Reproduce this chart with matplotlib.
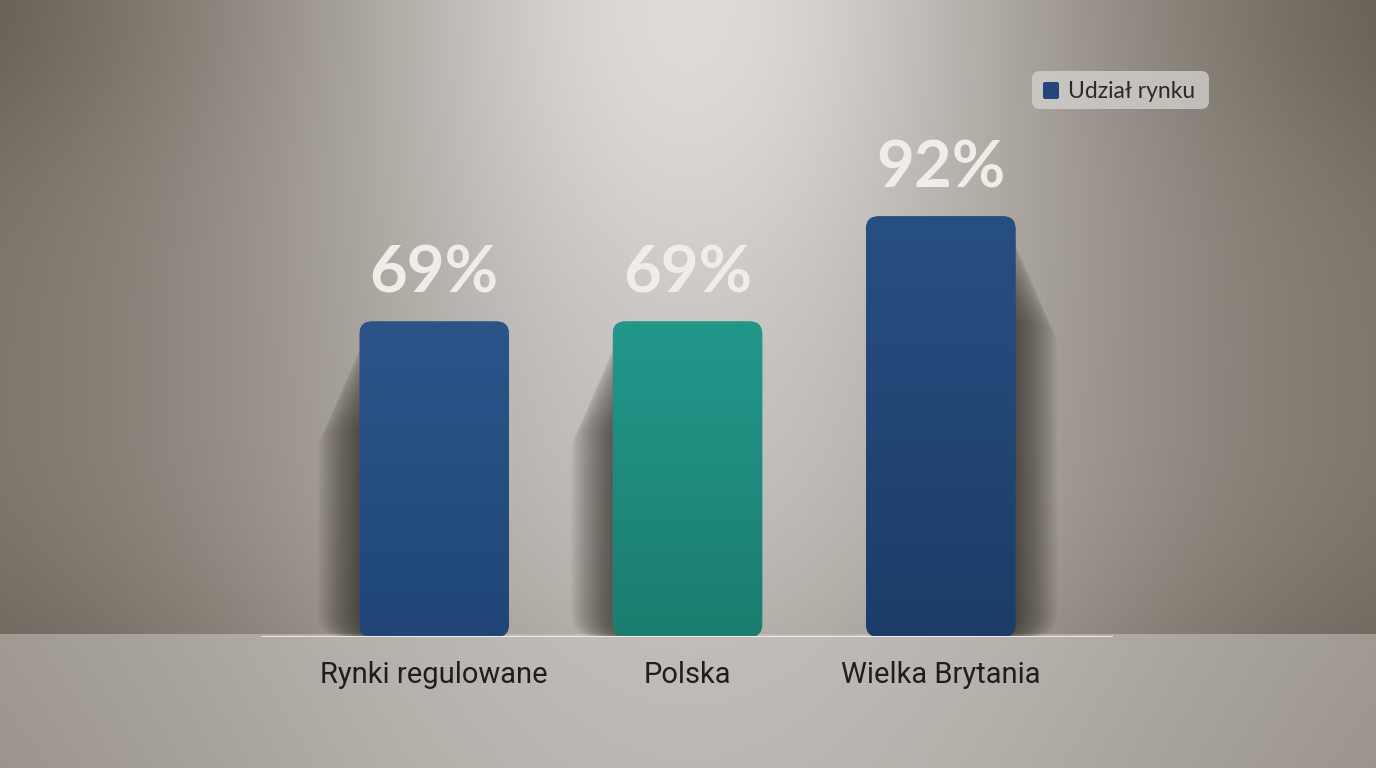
import numpy as np
import matplotlib
matplotlib.use("Agg")
import matplotlib.pyplot as plt
from matplotlib.patches import FancyBboxPatch
from matplotlib.colors import LinearSegmentedColormap

categories = ["Rynki regulowane", "Polska", "Wielka Brytania"]
values = [69, 69, 92]
value_labels = ["69%", "69%", "92%"]
bar_colors = ["#244e85", "#1f8e81", "#21477c"]
bar_tops = ["#2b5589", "#22988b", "#284f82"]
bar_bottoms = ["#1f4677", "#1b7d70", "#1c3c68"]
legend_label = "Udział rynku"

W, H = 1376, 768
fig = plt.figure(figsize=(W / 100, H / 100), dpi=100)

# background: wall with soft top light + floor
bg = fig.add_axes([0, 0, 1, 1])
yy, xx = np.mgrid[0:H, 0:W].astype(float)
ux = np.abs(xx - 688) / 688.0
wall = 0.42 + 0.32 * np.exp(-((xx - 688) / 500.0) ** 2)
wall += 0.12 * np.exp(-((xx - 688) / 300.0) ** 2) * np.exp(-(yy / 320.0) ** 2)
wall -= 0.08 * np.exp(-(yy / 160.0) ** 2) * ux ** 2
wall -= 0.05 * np.clip((yy - 420) / 214.0, 0, 1) ** 2
floor = 0.55 + 0.19 * np.exp(-((xx - 688) / 620.0) ** 2) - 0.02 * (yy - 634) / 134.0
lum = np.where(yy < 634, wall, floor)
img = np.dstack([lum + 0.03 * (1 - lum) + 0.01, lum, lum - 0.07 * (1 - lum)])
bg.imshow(np.clip(img, 0, 1), extent=[0, W, H, 0], aspect="auto")
bg.set_xlim(0, W)
bg.set_ylim(H, 0)
bg.axis("off")

# chart axes (pixel placement)
left, right, base, top = 262, 1113, 637, 134
ax = fig.add_axes([left / W, (H - base) / H, (right - left) / W, (base - top) / H])
ax.patch.set_alpha(0)
x = np.arange(len(categories))
for s in ax.spines.values():
    s.set_visible(False)
ax.set_yticks([])
ax.set_xticks(x)
ax.set_xticklabels(categories, fontsize=21, color="#1e1e1e", family="Roboto")
ax.tick_params(axis="x", length=0, pad=17)

bars = ax.bar(x, values, width=0.59, color=bar_colors)

px_x = (right - left) / 3.36
px_y = (base - top) / 110.0
aspect = px_x / px_y
grad = np.linspace(1, 0, 256).reshape(-1, 1)
for i, b in enumerate(bars):
    b.set_visible(False)
    bx, by, bw, bh = b.get_x(), b.get_y(), b.get_width(), b.get_height()
    # soft shadow, cast away from the centre light
    side = -1 if i < 2 else 1
    for k in range(30):
        off = (k + 1) * 1.4 / px_x
        ax.add_patch(FancyBboxPatch((bx + side * off, by), bw, bh - 3 - k * 0.7,
                                    boxstyle="round,pad=0,rounding_size=0.1",
                                    mutation_aspect=aspect, fc="#231d18", ec="none",
                                    alpha=0.026, zorder=1))
    patch = FancyBboxPatch((bx, by), bw, bh, boxstyle="round,pad=0,rounding_size=0.05",
                           mutation_aspect=aspect, fc=bar_colors[i], ec="none", zorder=3)
    ax.add_patch(patch)
    cmap = LinearSegmentedColormap.from_list("g%d" % i, [bar_bottoms[i], bar_tops[i]])
    im = ax.imshow(grad, cmap=cmap, extent=[bx, bx + bw, by, by + bh],
                   aspect="auto", zorder=4, vmin=0, vmax=1)
    im.set_clip_path(patch)

ax.set_xlim(-0.68, 2.68)
ax.set_ylim(0, 110)
ax.axhline(0, color="#ecebe8", lw=2.2, zorder=6)

for xi, v, lab in zip(x, values, value_labels):
    ax.text(xi, v + 4, lab, ha="center", va="bottom", fontsize=47,
            color="#f0ede9", family="Lato", fontweight="bold", zorder=7)

# legend
leg_ax = fig.add_axes([0, 0, 1, 1], facecolor="none")
leg_ax.set_xlim(0, W)
leg_ax.set_ylim(H, 0)
leg_ax.axis("off")
leg_ax.add_patch(FancyBboxPatch((1032, 71), 177, 38, boxstyle="round,pad=0,rounding_size=8",
                                fc="#d6d3cf", ec="none", alpha=0.75))
leg_ax.add_patch(FancyBboxPatch((1043, 82), 16, 17, boxstyle="round,pad=0,rounding_size=2",
                                fc=bar_colors[2], ec="none"))
leg_ax.text(1068, 91, legend_label, ha="left", va="center", fontsize=16.5,
            color="#2a2a2a", family="Lato")

fig.savefig("out.png", dpi=100)
